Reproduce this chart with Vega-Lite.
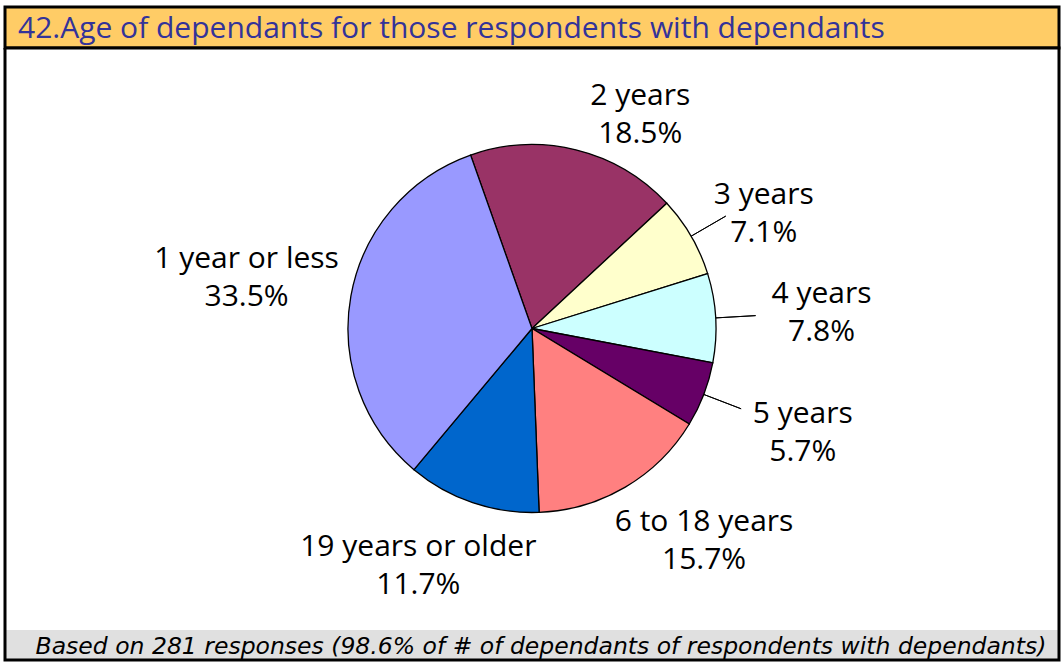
{
  "$schema": "https://vega.github.io/schema/vega-lite/v6.json",
  "padding": {"left": 3, "top": 5, "right": 3, "bottom": 3},
  "spacing": 0,
  "bounds": "flush",
  "background": "white",
  "config": {"font": "Open Sans", "view": {"stroke": null}},
  "datasets": {
    "ages": [
      {"idx": 1, "category": "2 years", "value": 18.5},
      {"idx": 2, "category": "3 years", "value": 7.1},
      {"idx": 3, "category": "4 years", "value": 7.8},
      {"idx": 4, "category": "5 years", "value": 5.7},
      {"idx": 5, "category": "6 to 18 years", "value": 15.7},
      {"idx": 6, "category": "19 years or older", "value": 11.7},
      {"idx": 7, "category": "1 year or less", "value": 33.5}
    ]
  },
  "vconcat": [
    {
      "width": 1054,
      "height": 41,
      "view": {"fill": "#FFCC66", "stroke": "black", "strokeWidth": 3},
      "data": {"values": [{"heading": "42.Age of dependants for those respondents with dependants"}]},
      "mark": {"type": "text", "align": "left", "baseline": "middle", "dx": 13, "dy": 1, "fontSize": 30, "font": "Open Sans", "color": "#333399"},
      "encoding": {
        "x": {"datum": 0, "type": "quantitative", "scale": {"domain": [0, 1]}, "axis": null},
        "text": {"field": "heading"}
      }
    },
    {
      "width": 1054,
      "height": 561,
      "view": {"fill": "white", "stroke": "black", "strokeWidth": 3, "strokeDash": [1615, 1054, 561, 0]},
      "data": {"name": "ages"},
      "transform": [
        {"window": [{"op": "sum", "field": "value", "as": "cum"}], "sort": [{"field": "idx", "order": "ascending"}], "frame": [null, 0]},
        {"calculate": "datum.cum - datum.value", "as": "start"},
        {"calculate": "datum.cum - datum.value / 2", "as": "mid"},
        {"calculate": "datum.category + '\\n' + format(datum.value, '.1f') + '%'", "as": "label"}
      ],
      "layer": [
        {
          "mark": {"type": "arc", "outerRadius": 184, "stroke": "black", "strokeWidth": 1.3},
          "encoding": {
            "theta": {"field": "start", "type": "quantitative", "stack": null, "scale": {"domain": [0, 100], "range": [-0.3403, 5.9429]}},
            "theta2": {"field": "cum"},
            "color": {
              "field": "category",
              "type": "nominal",
              "legend": null,
              "scale": {
                "domain": ["2 years", "3 years", "4 years", "5 years", "6 to 18 years", "19 years or older", "1 year or less"],
                "range": ["#993366", "#FFFFCC", "#CCFFFF", "#660066", "#FF8080", "#0066CC", "#9999FF"]
              }
            }
          }
        },
        {
          "transform": [{"filter": {"field": "category", "oneOf": ["3 years", "4 years", "5 years"]}}],
          "mark": {"type": "arc", "innerRadius": 184, "outerRadius": 224, "stroke": "black", "strokeWidth": 1, "fill": "black"},
          "encoding": {
            "theta": {"field": "mid", "type": "quantitative", "stack": null},
            "theta2": {"field": "mid"}
          }
        },
        {
          "transform": [{"filter": {"field": "category", "oneOf": ["1 year or less", "4 years", "5 years"]}}],
          "mark": {"type": "text", "radius": 290, "dy": -18, "fontSize": 30, "lineHeight": 38, "lineBreak": "\n", "align": "center", "baseline": "middle", "font": "Open Sans", "color": "black"},
          "encoding": {
            "theta": {"field": "mid", "type": "quantitative", "stack": null},
            "text": {"field": "label"}
          }
        },
        {
          "transform": [{"filter": {"field": "category", "equal": "2 years"}}],
          "mark": {"type": "text", "radius": 240, "thetaOffset": 0.227, "dy": -18, "fontSize": 30, "lineHeight": 38, "lineBreak": "\n", "align": "center", "baseline": "middle", "font": "Open Sans", "color": "black"},
          "encoding": {
            "theta": {"field": "mid", "type": "quantitative", "stack": null},
            "text": {"field": "label"}
          }
        },
        {
          "transform": [{"filter": {"field": "category", "equal": "3 years"}}],
          "mark": {"type": "text", "radius": 259, "thetaOffset": 0.063, "dy": -18, "fontSize": 30, "lineHeight": 38, "lineBreak": "\n", "align": "center", "baseline": "middle", "font": "Open Sans", "color": "black"},
          "encoding": {
            "theta": {"field": "mid", "type": "quantitative", "stack": null},
            "text": {"field": "label"}
          }
        },
        {
          "transform": [{"filter": {"field": "category", "equal": "6 to 18 years"}}],
          "mark": {"type": "text", "radius": 273, "thetaOffset": -0.15, "dy": -18, "fontSize": 30, "lineHeight": 38, "lineBreak": "\n", "align": "center", "baseline": "middle", "font": "Open Sans", "color": "black"},
          "encoding": {
            "theta": {"field": "mid", "type": "quantitative", "stack": null},
            "text": {"field": "label"}
          }
        },
        {
          "transform": [{"filter": {"field": "category", "equal": "19 years or older"}}],
          "mark": {"type": "text", "radius": 262, "thetaOffset": 0.12, "dy": -18, "fontSize": 30, "lineHeight": 38, "lineBreak": "\n", "align": "center", "baseline": "middle", "font": "Open Sans", "color": "black"},
          "encoding": {
            "theta": {"field": "mid", "type": "quantitative", "stack": null},
            "text": {"field": "label"}
          }
        }
      ]
    },
    {
      "width": 1054,
      "height": 21,
      "view": {"fill": "white", "stroke": "black", "strokeWidth": 3, "strokeDash": [0, 1054, 21, 1054, 21, 0]},
      "data": {"values": [{}]},
      "mark": "text",
      "encoding": {"text": {"value": ""}}
    },
    {
      "width": 1054,
      "height": 30,
      "view": {"fill": "#E0E0E0", "stroke": "black", "strokeWidth": 3, "strokeDash": [0, 1054, 1114, 0]},
      "data": {"values": [{"note": "Based on 281 responses (98.6% of # of dependants of respondents with dependants)"}]},
      "mark": {"type": "text", "align": "center", "baseline": "middle", "dx": 9, "dy": 2, "fontSize": 23.5, "fontStyle": "italic", "font": "DejaVu Sans", "color": "black"},
      "encoding": {"text": {"field": "note"}}
    }
  ]
}
